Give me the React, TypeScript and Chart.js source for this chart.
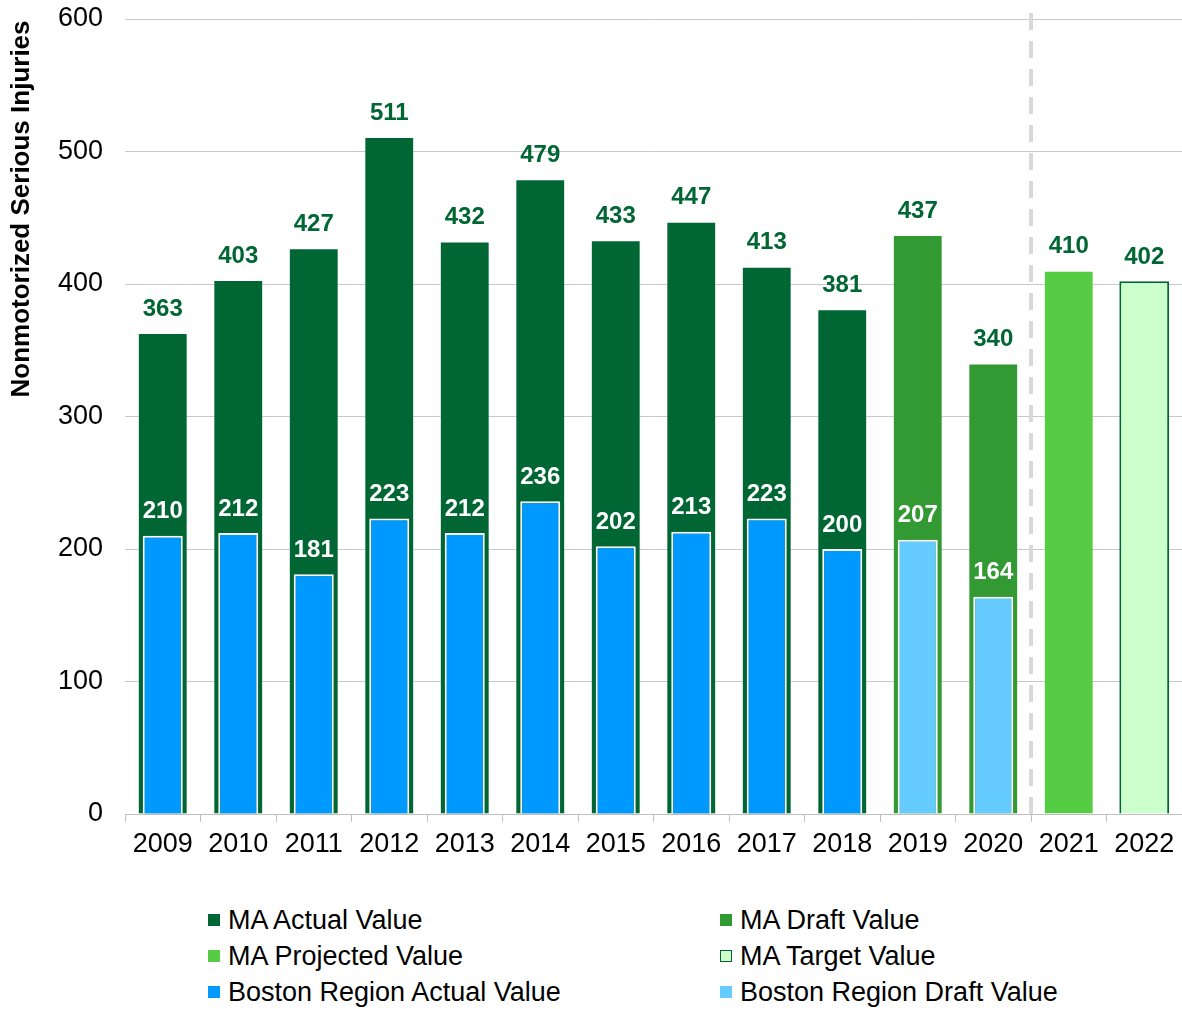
import React, { useEffect, useRef } from "react";
import { Chart, registerables } from "chart.js";

Chart.register(...registerables);

const years = ["2009", "2010", "2011", "2012", "2013", "2014", "2015", "2016", "2017", "2018", "2019", "2020", "2021", "2022"];
const maValues = [363, 403, 427, 511, 432, 479, 433, 447, 413, 381, 437, 340, 410, 402];
const maStatus = ["actual", "actual", "actual", "actual", "actual", "actual", "actual", "actual", "actual", "actual", "draft", "draft", "projected", "target"];
const bostonValues = [210, 212, 181, 223, 212, 236, 202, 213, 223, 200, 207, 164, null, null];
const bostonStatus = ["actual", "actual", "actual", "actual", "actual", "actual", "actual", "actual", "actual", "actual", "draft", "draft", "none", "none"];
const yTicks = [0, 100, 200, 300, 400, 500, 600];
const dividerAfterIndex = 11;
const yTitle = "Nonmotorized Serious Injuries";

const FONT = "'Liberation Sans', Arial, sans-serif";

const maColors: Record<string, string> = {
  actual: "#006633",
  draft: "#339933",
  projected: "#55CC44",
  target: "#CCFFCC",
};
const bostonColors: Record<string, string> = {
  actual: "#0099FF",
  draft: "#66CCFF",
  none: "#0099FF",
};

const legendItems = [
  { label: "MA Actual Value", color: maColors.actual, border: maColors.actual },
  { label: "MA Draft Value", color: maColors.draft, border: maColors.draft },
  { label: "MA Projected Value", color: maColors.projected, border: maColors.projected },
  { label: "MA Target Value", color: maColors.target, border: "#006633" },
  { label: "Boston Region Actual Value", color: bostonColors.actual, border: bostonColors.actual },
  { label: "Boston Region Draft Value", color: bostonColors.draft, border: bostonColors.draft },
];

const labelsPlugin = {
  id: "valueLabels",
  afterDatasetsDraw(chart: any) {
    const ctx = chart.ctx;
    ctx.save();
    ctx.font = `bold 24px ${FONT}`;
    ctx.textAlign = "center";
    ctx.textBaseline = "middle";
    chart.data.datasets.forEach((ds: any, di: number) => {
      const meta = chart.getDatasetMeta(di);
      meta.data.forEach((el: any, i: number) => {
        const v = ds.data[i];
        if (v === null || v === undefined) return;
        ctx.fillStyle = ds.labelColor;
        ctx.fillText(String(v), el.x, el.y - 24);
      });
    });
    ctx.restore();
  },
};

const extrasPlugin = {
  id: "extras",
  afterDatasetsDraw(chart: any) {
    const ctx = chart.ctx;
    const xs = chart.scales.x;
    const x = (xs.getPixelForValue(dividerAfterIndex) + xs.getPixelForValue(dividerAfterIndex + 1)) / 2;
    ctx.save();
    ctx.strokeStyle = "#D9D9D9";
    ctx.lineWidth = 4;
    ctx.setLineDash([17, 11]);
    ctx.beginPath();
    ctx.moveTo(x, 13);
    ctx.lineTo(x, chart.chartArea.bottom);
    ctx.stroke();
    ctx.restore();
  },
  afterDraw(chart: any) {
    const ctx = chart.ctx;
    ctx.save();
    ctx.translate(22, 209);
    ctx.rotate(-Math.PI / 2);
    ctx.font = `bold 26px ${FONT}`;
    ctx.fillStyle = "#000000";
    ctx.textAlign = "center";
    ctx.textBaseline = "middle";
    ctx.fillText(yTitle, 0, 0);
    ctx.restore();
  },
};

export default function App() {
  const canvasRef = useRef<HTMLCanvasElement | null>(null);

  useEffect(() => {
    if (!canvasRef.current) return;
    const chart = new Chart(canvasRef.current, {
      type: "bar",
      data: {
        labels: years,
        datasets: [
          {
            label: "Boston Region",
            data: bostonValues as any,
            backgroundColor: bostonStatus.map((s) => bostonColors[s]),
            borderColor: "#FFFFFF",
            borderWidth: 2,
            barPercentage: 0.53,
            categoryPercentage: 1,
            grouped: false,
            order: 0,
            labelColor: "#FFFFFF",
          } as any,
          {
            label: "MA",
            data: maValues,
            backgroundColor: maStatus.map((s) => maColors[s]),
            borderColor: maStatus.map((s) => (s === "target" ? "#006633" : "rgba(255,255,255,0.3)")),
            borderWidth: maStatus.map((s) => (s === "target" ? 2 : 1)),
            barPercentage: 0.66,
            categoryPercentage: 1,
            grouped: false,
            order: 1,
            labelColor: "#006633",
          } as any,
        ],
      },
      options: {
        animation: false,
        responsive: false,
        maintainAspectRatio: false,
        layout: { padding: { top: 19, left: 0, right: 0, bottom: 0 } },
        plugins: {
          legend: { display: false },
          tooltip: { enabled: false },
        },
        scales: {
          x: {
            offset: true,
            grid: {
              offset: true,
              drawOnChartArea: false,
              drawTicks: true,
              tickLength: 8,
              color: "#BFBFBF",
            },
            border: { color: "#BFBFBF", width: 1 },
            ticks: {
              color: "#000000",
              font: { family: FONT, size: 27 },
              padding: 6,
              maxRotation: 0,
            },
            afterFit(scale: any) {
              scale.height = 56;
              scale.paddingLeft = 0;
              scale.paddingRight = 0;
            },
          },
          y: {
            min: 0,
            max: 600,
            afterBuildTicks(scale: any) {
              scale.ticks = yTicks.map((v) => ({ value: v }));
            },
            grid: { color: "#C8C8C8", lineWidth: 1, drawTicks: false },
            border: { display: false },
            ticks: {
              color: "#000000",
              font: { family: FONT, size: 27 },
              padding: 22,
            },
            afterFit(scale: any) {
              scale.width = 125;
              scale.paddingTop = 0;
              scale.paddingBottom = 0;
            },
          },
        },
      },
      plugins: [labelsPlugin, extrasPlugin],
    });
    return () => chart.destroy();
  }, []);

  const rows = [0, 1, 2];
  return (
    <div style={{ position: "fixed", left: 0, top: 0, width: 1182, height: 1009, background: "#FFFFFF", fontFamily: FONT }}>
      <canvas ref={canvasRef} width={1182} height={870} style={{ position: "absolute", left: 0, top: 0, width: 1182, height: 870 }} />
      {rows.map((r) =>
        [0, 1].map((c) => {
          const item = legendItems[r * 2 + c];
          const left = c === 0 ? 208 : 720;
          const top = 920 + r * 36;
          return (
            <div key={item.label} style={{ position: "absolute", left, top: top - 16, height: 32, display: "flex", alignItems: "center", whiteSpace: "nowrap" }}>
              <span style={{ display: "inline-block", width: 12, height: 12, boxSizing: "border-box", background: item.color, border: `1.5px solid ${item.border}`, marginRight: 8 }} />
              <span style={{ fontSize: 27, color: "#000000", lineHeight: "32px" }}>{item.label}</span>
            </div>
          );
        })
      )}
    </div>
  );
}
